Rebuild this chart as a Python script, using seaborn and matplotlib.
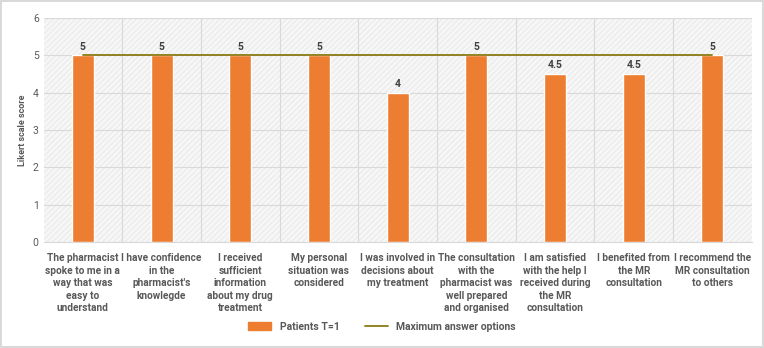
import matplotlib
matplotlib.use("Agg")
import matplotlib.pyplot as plt
import matplotlib.patches as mpatches
from matplotlib.lines import Line2D
import seaborn as sns
import pandas as pd

# chart data
statements = [
    "The pharmacist\nspoke to me in a\nway that was\neasy to\nunderstand",
    "I have confidence\nin the\npharmacist's\nknowlegde",
    "I received\nsufficient\ninformation\nabout my drug\ntreatment",
    "My personal\nsituation was\nconsidered",
    "I was involved in\ndecisions about\nmy treatment",
    "The consultation\nwith the\npharmacist was\nwell prepared\nand organised",
    "I am satisfied\nwith the help I\nreceived during\nthe MR\nconsultation",
    "I benefited from\nthe MR\nconsultation",
    "I recommend the\nMR consultation\nto others",
]
patients_t1 = [5, 5, 5, 5, 4, 5, 4.5, 4.5, 5]
max_answer = [5, 5, 5, 5, 5, 5, 5, 5, 5]
y_ticks = [0, 1, 2, 3, 4, 5, 6]

bar_color = "#ED7D31"
line_color = "#8A7A12"
text_color = "#595959"

sns.set_style("white")
plt.rcParams["font.family"] = ["Roboto", "DejaVu Sans"]

df = pd.DataFrame({"statement": statements, "score": patients_t1})

fig = plt.figure(figsize=(7.64, 3.48), dpi=100)
fig.patch.set_edgecolor("#d9d9d9")
fig.patch.set_linewidth(1.5)
ax = fig.add_axes([0.057, 0.305, 0.927, 0.643])

# hatched light background like the original
ax.set_facecolor("#f7f7f7")
bg = mpatches.Rectangle((0, 0), 1, 1, transform=ax.transAxes, facecolor="none",
                        edgecolor="#ececec", hatch="//////", linewidth=0, zorder=0)
ax.add_patch(bg)

sns.barplot(data=df, x="statement", y="score", color=bar_color, width=0.28,
            saturation=1, ax=ax, zorder=3)
sns.lineplot(x=list(range(len(max_answer))), y=max_answer, color=line_color,
             linewidth=1.3, ax=ax, zorder=4)

for i, v in enumerate(patients_t1):
    lbl = f"{v:g}"
    ax.text(i, v + 0.1, lbl, ha="center", va="bottom", fontsize=7.5,
            fontweight="bold", color="#404040", zorder=5)

ax.set_xlim(-0.5, len(statements) - 0.5)
ax.set_ylim(0, 6)
ax.set_yticks(y_ticks)
ax.set_xticks(range(len(statements)))
ax.set_xticks([i + 0.5 for i in range(len(statements) - 1)], minor=True)
ax.set_xticklabels(statements, fontsize=7.3, fontweight="bold", color=text_color,
                   linespacing=1.32)
ax.tick_params(axis="y", labelsize=7.5, colors=text_color, length=0)
ax.tick_params(axis="x", which="both", length=0, pad=8)
ax.grid(axis="y", color="#d9d9d9", linewidth=0.8, zorder=1)
ax.grid(axis="x", which="minor", color="#d9d9d9", linewidth=0.8, zorder=1)
ax.set_axisbelow(True)
ax.set_xlabel("")
ax.set_ylabel("Likert scale score", fontsize=6.5, fontweight="bold", color=text_color)
for s in ax.spines.values():
    s.set_visible(False)
ax.spines["bottom"].set_visible(True)
ax.spines["bottom"].set_color("#d9d9d9")

handles = [mpatches.Patch(color=bar_color, label="Patients T=1"),
           Line2D([0], [0], color=line_color, linewidth=1.3, label="Maximum answer options")]
fig.legend(handles=handles, loc="lower center", bbox_to_anchor=(0.5, 0.02), ncol=2,
           frameon=False, prop={"weight": "bold", "size": 7.5},
           handlelength=2.2, columnspacing=2.4, labelcolor=text_color)

fig.savefig("out.png", dpi=100)
